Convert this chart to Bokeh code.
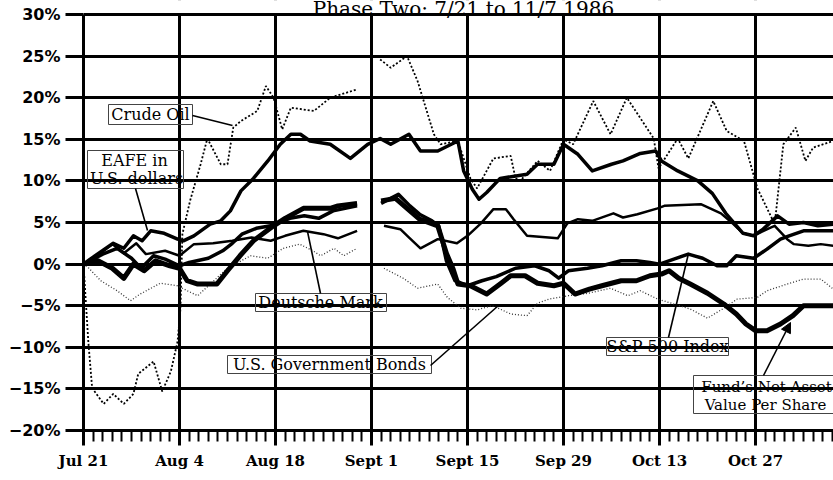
import math
from bokeh.plotting import figure
from bokeh.models import Range1d, FixedTicker, Label, Arrow, NormalHead, BoxAnnotation
from bokeh.embed import file_html
from bokeh.resources import INLINE

nan = float("nan")

# x = trading-day index from Jul 21 (1986)
date_ticks = [0, 10, 20, 30, 40, 50, 60, 70]
date_labels = ["Jul 21", "Aug 4", "Aug 18", "Sept 1", "Sept 15", "Sep 29", "Oct 13", "Oct 27"]
day_ticks = list(range(0, 79))
pct_ticks = [-20, -15, -10, -5, 0, 5, 10, 15, 20, 25, 30]
pct_labels = ["\u221220%", "\u221215%", "\u221210%", "\u22125%", "0%", "5%", "10%", "15%", "20%", "25%", "30%"]

crude_x = [0, 0.5, 0.9, 2.1, 3.1, 4.2, 5.2, 5.7, 7.3, 8.2, 9.1, 9.8, 10.1, 10.3, 11.1, 12.2, 12.9, 14.3, 15, 15.6,
           16.4, 18.1, 19, 19.8, 20.7, 21.6, 24, 25.7, 28.5, nan, 30.9, 32, 33.7, 34.8, 36.5, 37.2, 39, 40.3, 41,
           42.7, 44.5, 45, 45.5, 47.3, 48.6, 50, 51, 53.1, 54.9, 56.6, 59.4, 59.9, 61.9, 63, 65.6, 67, 68.8, 70.2,
           72, 72.9, 74.2, 75.2, 76, 78.1]
crude_y = [0, -9.3, -14.9, -16.8, -15.6, -16.8, -15.6, -13.2, -11.7, -15.3, -12.9, -9.3, -5.3, 3.6, 7.6, 12.0, 15.1,
           12.0, 12.0, 16.4, 17.2, 18.4, 21.4, 20.0, 16.2, 18.8, 18.4, 20.0, 21.0, nan, 24.6, 23.6, 25.0, 22.0, 15.6,
           14.4, 14.8, 10.3, 9.1, 12.7, 13.0, 10.3, 10.0, 12.4, 11.2, 15.0, 14.4, 19.6, 15.6, 20.0, 15.1, 11.5, 15.1,
           12.7, 19.6, 16.0, 14.8, 9.1, 4.8, 14.4, 16.4, 12.4, 14.0, 14.8]

bonds_x = [0, 0.4, 1.8, 3.5, 4.9, 5.9, 8, 9.8, 10.8, 11.9, 13.2, 15, 17.4, 19.2, 20.8, 22.5, 23.9, 24.7, 26.1, 27.1,
           28.5, nan, 31.3, 33.3, 34.8, 36.9, 37.9, 39.3, 41, 42.5, 43.2, 44.5, 46.2, 47.3, 48.5, 50.5, 52.6, 54.9,
           56.7, 58, 59.8, 61.5, 63.2, 65, 66.7, 68.1, 70.2, 71.2, 73.3, 75, 76.8, 78.1]
bonds_y = [0, -0.3, -2.0, -3.2, -4.4, -3.6, -2.3, -2.6, -3.2, -3.8, -2.4, -0.5, 1.0, 0.7, 1.9, 2.4, 1.6, 1.0, 1.9,
           1.0, 1.9, nan, -0.5, -1.7, -2.9, -2.4, -4.0, -5.3, -5.5, -5.0, -5.3, -6.0, -6.2, -4.7, -4.2, -3.8, -3.5,
           -2.9, -3.8, -3.2, -4.2, -4.8, -5.4, -6.5, -5.3, -4.2, -4.0, -3.2, -2.4, -1.8, -1.8, -3.0]

dm_x = [0, 2, 3, 4.2, 5.5, 6.5, 8.5, 10, 11.5, 13.5, 15.5, 17.5, 19.5, 21, 22.9, 25, 26.5, 28.5, nan, 31.3, 33, 34,
        35.1, 36.9, 38.9, 40, 41.4, 42.7, 44, 44.8, 46.2, 49.4, 50.4, 51.5, 53, 55.2, 56.2, 57.7, 59.8, 60.5, 64.3,
        66.4, 67.7, 68.7, 69.8, 71.4, 72, 73.3, 74, 75.5, 76.8, 78.1]
dm_y = [0, 1.5, 2.4, 1.3, 2.5, 1.2, 1.6, 1.0, 2.4, 2.5, 2.8, 3.2, 2.8, 3.4, 4.0, 3.6, 3.1, 4.0, nan, 4.6, 4.2, 3.1,
        1.9, 3.0, 2.5, 3.4, 4.9, 6.6, 6.6, 5.4, 3.4, 3.1, 4.9, 5.4, 5.2, 6.1, 5.6, 6.0, 6.7, 7.0, 7.2, 6.1, 4.8, 3.7,
        3.4, 4.3, 4.6, 3.0, 2.4, 2.2, 2.4, 2.2]

eafe_x = [0, 0.7, 3.1, 4.2, 5.2, 6.1, 7, 8.4, 9.8, 10.4, 11.5, 13.2, 14.3, 15.3, 16.4, 17.7, 19.2, 20.5, 21.6, 22.6,
          23.6, 25.7, 27.8, 29.6, 30.9, 32, 33.9, 35.1, 36.9, 39, 39.6, 40.5, 41.2, 42, 43.4, 46.2, 47.3, 49, 50,
          51.5, 53, 55, 56.2, 58, 59.6, 60.2, 61.9, 64, 65.5, 66.9, 68.7, 69.8, 70.8, 72.3, 73.5, 75, 76.5, 78.1]
eafe_y = [0, 0.6, 2.5, 1.9, 3.4, 2.8, 4.0, 3.7, 3.0, 2.8, 3.4, 4.8, 5.2, 6.4, 8.8, 10.3, 12.4, 14.4, 15.6, 15.6,
          14.8, 14.4, 12.7, 14.4, 15.1, 14.4, 15.6, 13.6, 13.6, 14.8, 11.2, 9.0, 7.8, 8.6, 10.3, 10.8, 12.0, 12.0,
          14.4, 13.2, 11.2, 12.0, 12.4, 13.3, 13.6, 12.4, 11.2, 10.0, 8.5, 6.1, 3.7, 3.4, 4.2, 5.8, 4.8, 5.0, 4.6, 4.8]

sp_x = [0, 1, 2, 3.5, 5, 6, 7.3, 8.5, 10, 11, 13, 14.5, 15.5, 16.5, 18, 19.5, 21.5, 23, 24.5, 26, 28.5, nan, 31,
        32.8, 34, 35, 36.3, 37, 37.8, 38.7, 40, 41.5, 43, 45, 47, 48.5, 49.5, 50.5, 52.5, 54, 56, 57.6, 59, 60, 61.5,
        63, 64.5, 66, 67, 68, 69.8, 71.2, 72.6, 73.5, 75, 78.1]
sp_y = [0, 0.6, 1.2, 1.9, 0.7, -0.5, 1.0, 0.6, -0.2, 0.2, 0.7, 1.6, 2.5, 3.6, 4.3, 4.6, 5.5, 5.8, 5.5, 6.4, 7.0, nan,
        7.3, 8.4, 7.0, 6.0, 5.2, 4.6, 0.4, -2.0, -2.6, -2.0, -1.5, -0.5, -0.2, -0.8, -1.7, -0.8, -0.5, -0.2, 0.4,
        0.4, 0.2, 0.0, 0.6, 1.2, 0.7, -0.2, -0.2, 1.0, 0.7, 1.8, 3.0, 3.4, 4.0, 4.0]

fund_x = [0, 1.5, 3, 4.2, 5.2, 6.3, 7.5, 9, 10, 10.8, 11.9, 13.9, 15, 16.3, 17.7, 19.8, 21, 22.9, 25.7, 26.5, 28.5,
          nan, 31, 32.5, 34, 35, 36.9, 37.8, 38.5, 39, 40.3, 42, 43.5, 44.5, 46, 47.3, 49, 50, 51.2, 52.7, 54, 56,
          57.6, 59, 60.2, 61, 62, 63.2, 65, 66.7, 68, 69, 70, 71.2, 72.6, 73.9, 75, 78.1]
fund_y = [0, 0.4, -0.5, -1.7, 0, -0.8, 0.4, -0.2, -0.5, -2.0, -2.4, -2.4, -0.8, 1.0, 2.8, 4.6, 5.5, 6.7, 6.7, 7.0,
          7.3, nan, 7.6, 7.9, 6.4, 5.4, 4.6, 1.3, -0.6, -2.4, -2.6, -3.6, -2.3, -1.4, -1.4, -2.3, -2.6, -2.3, -3.6,
          -3.0, -2.6, -2.0, -2.0, -1.4, -1.2, -0.8, -1.7, -2.4, -3.5, -4.8, -6.0, -7.2, -8.0, -8.0, -7.2, -6.2,
          -5.0, -5.0]

# ---------------------------------------------------------------
W, H = 833, 480
LEFT, TOP, BOTTOM = 83, 0, 50
PX_DAY = 9.6
PX_PCT = 8.32
Y_TOP = 30 + 14 / PX_PCT


def dx(px):
    return (px - LEFT) / PX_DAY


def dy(py):
    return 30 - (py - 14) / PX_PCT


p = figure(width=W, height=H, output_backend="svg", toolbar_location=None,
           x_range=Range1d(0, (W - LEFT) / PX_DAY),
           y_range=Range1d(-20, Y_TOP),
           min_border_left=LEFT, min_border_right=0, min_border_top=TOP, min_border_bottom=BOTTOM)
p.outline_line_color = None
p.background_fill_color = "white"
p.border_fill_color = "white"

p.xgrid.ticker = FixedTicker(ticks=date_ticks)
p.ygrid.ticker = FixedTicker(ticks=pct_ticks)
for g in (p.xgrid, p.ygrid):
    g.grid_line_color = "black"
    g.grid_line_width = 3

xa = p.xaxis[0]
xa.ticker = FixedTicker(ticks=date_ticks, minor_ticks=day_ticks)
xa.major_label_overrides = {t: l for t, l in zip(date_ticks, date_labels)}
xa.axis_line_width = 3
xa.axis_line_color = "black"
xa.major_tick_in = 0
xa.major_tick_out = 15
xa.major_tick_line_width = 3
xa.minor_tick_in = 0
xa.minor_tick_out = 11
xa.minor_tick_line_width = 2
xa.major_label_standoff = 6
xa.major_label_text_font = "DejaVu Serif"
xa.major_label_text_font_style = "bold"
xa.major_label_text_font_size = "15px"
xa.major_label_text_color = "black"

ya = p.yaxis[0]
ya.ticker = FixedTicker(ticks=pct_ticks)
ya.bounds = (-20, 30)
ya.major_label_overrides = {t: l for t, l in zip(pct_ticks, pct_labels)}
ya.axis_line_width = 3
ya.axis_line_color = "black"
ya.major_tick_in = 0
ya.major_tick_out = 18
ya.major_tick_line_width = 3
ya.minor_tick_out = 0
ya.minor_tick_in = 0
ya.major_label_standoff = 5
ya.major_label_text_font = "DejaVu Sans"
ya.major_label_text_font_style = "bold"
ya.major_label_text_font_size = "16px"
ya.major_label_text_color = "black"

# series
p.line(crude_x, crude_y, line_color="black", line_width=1.8, line_dash="2 2")
p.line(bonds_x, bonds_y, line_color="#333333", line_width=1.3, line_dash="1 2")
p.line(dm_x, dm_y, line_color="black", line_width=2.5, line_join="round")
p.line(eafe_x, eafe_y, line_color="black", line_width=3.5, line_join="round")
p.line(sp_x, sp_y, line_color="black", line_width=3.5, line_join="round")
p.line(fund_x, fund_y, line_color="black", line_width=5, line_join="round")

# white strip above the 30% line hides the vertical grid lines there
p.add_layout(BoxAnnotation(bottom=30 + 1.6 / PX_PCT, top=Y_TOP + 1, fill_color="white", fill_alpha=1,
                           line_alpha=0))

# title (mostly cut off at top of the reference)
p.add_layout(Label(x=dx(463), y=dy(8), text="Phase Two: 7/21 to 11/7 1986", text_align="center",
                   text_baseline="alphabetic", text_font="DejaVu Serif", text_font_size="20px",
                   text_color="black"))

# label boxes (transparent)
boxes = [(108, 192, 104, 124), (87, 183, 150, 188), (255, 386, 293, 311), (227, 431, 355, 373),
         (606, 728, 337, 355), (693, 860, 375, 413)]
for l, r, t, b in boxes:
    p.add_layout(BoxAnnotation(left=dx(l), right=dx(r), top=dy(t), bottom=dy(b), fill_alpha=0,
                               line_color="#444444", line_width=1, line_alpha=1))

texts = [("Crude Oil", 150, 114, 16), ("EAFE in", 134, 160, 16), ("U.S. dollars", 136, 178, 16),
         ("Deutsche Mark", 320, 302, 16), ("U.S. Government Bonds", 329, 364, 16),
         ("S&P 500 Index", 667, 346, 16), ("Fund\u2019s Net Asset", 766, 386, 15),
         ("Value Per Share", 765, 404, 15)]
for t, x, y, fs in texts:
    p.add_layout(Label(x=dx(x), y=dy(y), text=t, text_align="center", text_baseline="middle",
                       text_font="DejaVu Serif", text_font_size=f"{fs}px", text_color="black"))

leaders = [(192, 115, 232, 125), (135, 188, 147, 230), (320, 293, 307, 231), (430, 365, 498, 305),
           (668, 337, 688, 253)]
for x0, y0, x1, y1 in leaders:
    p.add_layout(Arrow(x_start=dx(x0), y_start=dy(y0), x_end=dx(x1), y_end=dy(y1), end=None,
                       line_width=1.6, line_color="black"))
p.add_layout(Arrow(x_start=dx(763), y_start=dy(375), x_end=dx(790), y_end=dy(322),
                   end=NormalHead(size=10, fill_color="black", line_color="black"),
                   line_width=1.6, line_color="black"))

open("out.html", "w").write(file_html(p, INLINE))
